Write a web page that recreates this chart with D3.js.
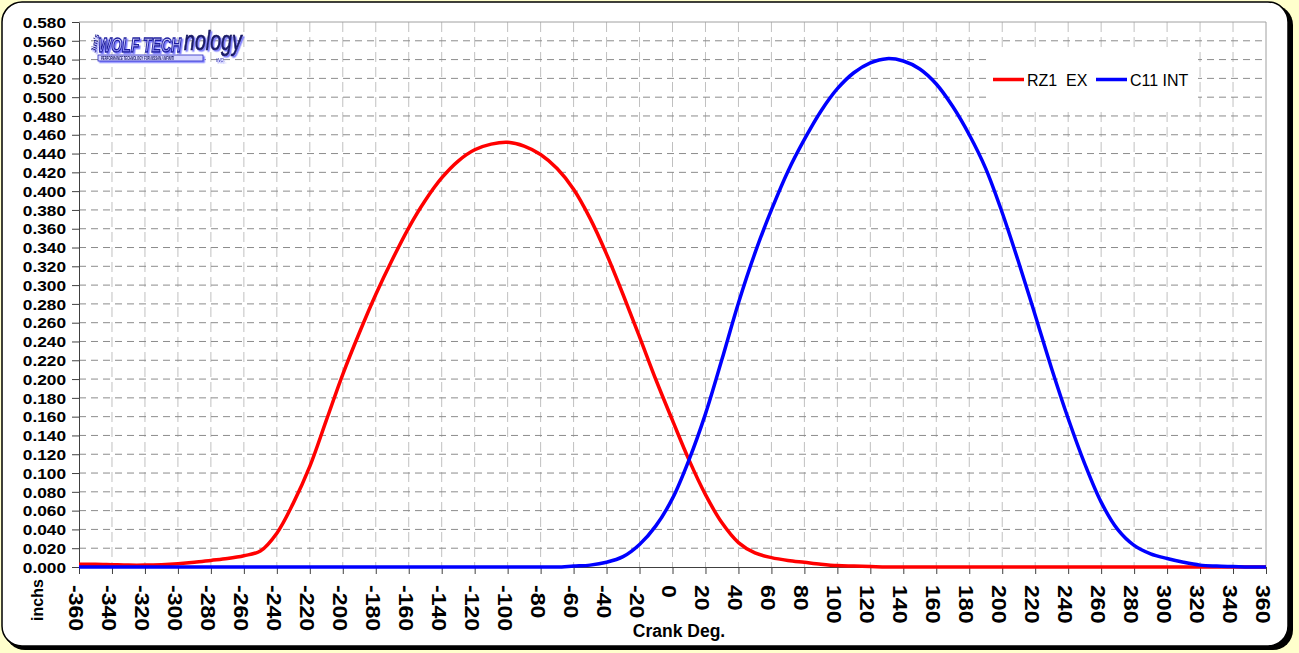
<!DOCTYPE html>
<html>
<head>
<meta charset="utf-8">
<script src="https://cdn.jsdelivr.net/npm/d3@7"></script>
<style>
  body { margin: 0; background: #ffffcc; }
  svg { display: block; }
</style>
</head>
<body>
<div id="chart"></div>
<script>
// crank angle, degrees
var angles = [-360, -350, -340, -330, -320, -310, -300, -290, -280, -270,
  -260, -250, -240, -230, -220, -210, -200, -190, -180, -170,
  -160, -150, -140, -130, -120, -110, -100, -90, -80, -70,
  -60, -50, -40, -30, -20, -10, 0, 10, 20, 30,
  40, 50, 60, 70, 80, 90, 100, 110, 120, 130,
  140, 150, 160, 170, 180, 190, 200, 210, 220, 230,
  240, 250, 260, 270, 280, 290, 300, 310, 320, 330,
  340, 350, 360];

// valve lift, inches
var rz1Ex = [0.003, 0.003, 0.0025, 0.002, 0.002, 0.0025, 0.0035, 0.005, 0.007, 0.009,
  0.012, 0.017, 0.036, 0.068, 0.107, 0.156, 0.205, 0.249, 0.290, 0.327,
  0.361, 0.390, 0.414, 0.432, 0.444, 0.450, 0.452, 0.448, 0.439, 0.424,
  0.402, 0.371, 0.333, 0.290, 0.245, 0.199, 0.156, 0.114, 0.077, 0.047,
  0.026, 0.015, 0.010, 0.007, 0.005, 0.003, 0.0015, 0.001, 0.0005, 0,
  0, 0, 0, 0, 0, 0, 0, 0, 0, 0,
  0, 0, 0, 0, 0, 0, 0, 0, 0, 0,
  0, 0, 0];

var c11Int = [0, 0, 0, 0, 0, 0, 0, 0, 0, 0,
  0, 0, 0, 0, 0, 0, 0, 0, 0, 0,
  0, 0, 0, 0, 0, 0, 0, 0, 0, 0,
  0.001, 0.002, 0.005, 0.011, 0.024, 0.044, 0.073, 0.114, 0.163, 0.221,
  0.281, 0.334, 0.380, 0.421, 0.455, 0.485, 0.509, 0.526, 0.5365, 0.541,
  0.5385, 0.530, 0.514, 0.490, 0.460, 0.424, 0.377, 0.324, 0.268, 0.211,
  0.158, 0.110, 0.069, 0.040, 0.023, 0.014, 0.009, 0.005, 0.002, 0.001,
  0.0005, 0, 0];

var seriesNames = ["RZ1  EX", "C11 INT"];
var seriesColors = ["#ff0000", "#0000ff"];

var xTicks = [-360, -340, -320, -300, -280, -260, -240, -220, -200, -180, -160, -140, -120, -100,
  -80, -60, -40, -20, 0, 20, 40, 60, 80, 100, 120, 140, 160, 180, 200, 220, 240, 260, 280,
  300, 320, 340, 360];
var yTicks = [0, 0.02, 0.04, 0.06, 0.08, 0.10, 0.12, 0.14, 0.16, 0.18, 0.20, 0.22, 0.24,
  0.26, 0.28, 0.30, 0.32, 0.34, 0.36, 0.38, 0.40, 0.42, 0.44, 0.46, 0.48, 0.50, 0.52,
  0.54, 0.56, 0.58];

var FONT = "'Liberation Sans', Arial, sans-serif";

function renderLiftChart(elem, width, height) {
  var svg = elem.append("svg")
    .attr("width", width)
    .attr("height", height);

  var defs = svg.append("defs");
  var shadow = defs.append("filter").attr("id", "logoShadow")
    .attr("x", "-10%").attr("y", "-20%").attr("width", "130%").attr("height", "150%");
  shadow.append("feDropShadow")
    .attr("dx", 1.5).attr("dy", 1.5).attr("stdDeviation", 0.6)
    .attr("flood-color", "#7a7aff");
  var grad = defs.append("linearGradient").attr("id", "wolfFill")
    .attr("x1", 0).attr("y1", 0).attr("x2", 0).attr("y2", 1);
  grad.append("stop").attr("offset", "0%").attr("stop-color", "#ffffff");
  grad.append("stop").attr("offset", "100%").attr("stop-color", "#6a6af2");

  // frame with drop shadow
  svg.append("rect")
    .attr("x", 5).attr("y", 5)
    .attr("width", 1288).attr("height", 645)
    .attr("rx", 20).attr("ry", 20)
    .attr("fill", "#000");
  svg.append("rect")
    .attr("x", 2).attr("y", 2)
    .attr("width", 1286).attr("height", 644)
    .attr("rx", 20).attr("ry", 20)
    .attr("fill", "#fff")
    .attr("stroke", "#000")
    .attr("stroke-width", 1.5);

  var x = d3.scaleLinear().domain([-360, 360]).range([79, 1266]);
  var y = d3.scaleLinear().domain([0, 0.58]).range([567, 22]);

  // grid
  var grid = svg.append("g");
  grid.selectAll(".vgrid")
    .data(xTicks.slice(1, -1))
    .enter().append("line")
      .attr("x1", function(d) { return x(d); })
      .attr("x2", function(d) { return x(d); })
      .attr("y1", y(0.58)).attr("y2", y(0))
      .attr("stroke", "#c0c0c0")
      .attr("stroke-dasharray", "10,5");
  grid.selectAll(".hgrid")
    .data(yTicks.slice(1, -1))
    .enter().append("line")
      .attr("x1", x(-360)).attr("x2", x(360))
      .attr("y1", function(d) { return y(d); })
      .attr("y2", function(d) { return y(d); })
      .attr("stroke", "#8c8c8c")
      .attr("stroke-dasharray", "7,5");

  // top and right edge of plot area
  svg.append("path")
    .attr("d", "M" + x(-360) + "," + y(0.58) + "H" + x(360) + "V" + y(0))
    .attr("fill", "none")
    .attr("stroke", "#a0a0a0");

  // legend sits on top of the grid, behind the curves
  var legend = svg.append("g");
  legend.append("rect")
    .attr("x", 990).attr("y", 50)
    .attr("width", 208).attr("height", 58)
    .attr("fill", "#fff");
  var legendX = [993, 1096];
  seriesNames.forEach(function(name, i) {
    legend.append("line")
      .attr("x1", legendX[i]).attr("x2", legendX[i] + 31)
      .attr("y1", 79.5).attr("y2", 79.5)
      .attr("stroke", seriesColors[i])
      .attr("stroke-width", 3.5);
    legend.append("text")
      .attr("x", legendX[i] + 34).attr("y", 85.5)
      .attr("font-family", FONT)
      .attr("font-size", 16)
      .attr("xml:space", "preserve")
      .style("white-space", "pre")
      .text(name);
  });

  // axes
  var yAxis = svg.append("g")
    .attr("transform", "translate(" + x(-360) + ",0)")
    .call(d3.axisLeft(y).tickValues(yTicks).tickFormat(d3.format(".3f")).tickSize(7).tickSizeOuter(0));
  yAxis.select(".domain").attr("stroke", "#404040");
  yAxis.selectAll(".tick line").attr("stroke", "#404040");
  yAxis.selectAll(".tick text")
    .attr("x", null)
    .attr("dy", "0.36em")
    .attr("transform", "translate(-13,0) scale(1.19,1)")
    .attr("font-family", FONT)
    .attr("font-size", 14.5)
    .attr("font-weight", "bold")
    .attr("fill", "#000");

  // plain hyphen for negatives, as the spreadsheet shows them
  var xAxis = svg.append("g")
    .attr("transform", "translate(0," + y(0) + ")")
    .call(d3.axisBottom(x).tickValues(xTicks).tickFormat(function(d) { return String(d); }).tickSize(7).tickSizeOuter(0));
  xAxis.select(".domain").attr("stroke", "#404040");
  xAxis.selectAll(".tick line").attr("stroke", "#404040");
  xAxis.selectAll(".tick text")
    .attr("y", null)
    .attr("dy", "0.5em")
    .attr("text-anchor", "start")
    .attr("transform", "translate(0,18) rotate(90) scale(1.1,1)")
    .attr("font-family", FONT)
    .attr("font-size", 21)
    .attr("font-weight", "bold")
    .attr("fill", "#000");

  // axis titles
  svg.append("text")
    .attr("transform", "translate(43,600) rotate(-90)")
    .attr("text-anchor", "middle")
    .attr("font-family", FONT)
    .attr("font-size", 16)
    .attr("font-weight", "bold")
    .text("inchs");
  svg.append("text")
    .attr("x", 679).attr("y", 637)
    .attr("text-anchor", "middle")
    .attr("font-family", FONT)
    .attr("font-size", 17.5)
    .attr("font-weight", "bold")
    .text("Crank Deg.");

  // curves, smoothed like the spreadsheet did
  var line = d3.line()
    .x(function(d) { return x(d[0]); })
    .y(function(d) { return Math.min(y(d[1]), y(0)); })
    .curve(d3.curveCatmullRom.alpha(0.5));

  [rz1Ex, c11Int].forEach(function(vals, i) {
    svg.append("path")
      .datum(angles.map(function(a, j) { return [a, vals[j]]; }))
      .attr("d", line)
      .attr("fill", "none")
      .attr("stroke", seriesColors[i])
      .attr("stroke-width", 3.5)
      .attr("stroke-linejoin", "round");
  });

  // logo, roughly; squeezed with scale so the text boxes stay apart
  var logo = svg.append("g").attr("filter", "url(#logoShadow)");
  logo.append("rect")
    .attr("x", 98).attr("y", 55)
    .attr("width", 105).attr("height", 6)
    .attr("fill", "#d8d8ff")
    .attr("stroke", "#2b2bc0")
    .attr("stroke-width", 0.8);
  logo.append("text")
    .attr("transform", "translate(101,60.3) scale(0.62,1)")
    .attr("font-family", FONT)
    .attr("font-size", 4.5)
    .attr("font-weight", "bold")
    .attr("font-style", "italic")
    .attr("fill", "#101060")
    .text("PERFORMANCE TECHNOLOGY FOR NISSAN / INFINITI");
  logo.append("text")
    .attr("transform", "translate(96,53) rotate(-80)")
    .attr("font-family", FONT)
    .attr("font-size", 7.5)
    .attr("font-weight", "bold")
    .attr("font-style", "italic")
    .attr("fill", "#1c1c8c")
    .text("Jim's");
  logo.append("text")
    .attr("transform", "translate(98,52) scale(0.7,1)")
    .attr("font-family", FONT)
    .attr("font-size", 20)
    .attr("font-weight", "bold")
    .attr("font-style", "italic")
    .attr("fill", "url(#wolfFill)")
    .attr("stroke", "#1c1c9c")
    .attr("stroke-width", 1.3)
    .text("WOLF TECH");
  logo.append("text")
    .attr("transform", "translate(184,50) scale(0.7,1)")
    .attr("font-family", FONT)
    .attr("font-size", 28)
    .attr("font-style", "italic")
    .attr("fill", "#1a1a70")
    .attr("stroke", "#101050")
    .attr("stroke-width", 0.7)
    .text("nology");
  logo.append("text")
    .attr("x", 216).attr("y", 62)
    .attr("font-family", FONT)
    .attr("font-size", 4.5)
    .attr("font-style", "italic")
    .attr("fill", "#2b2bb0")
    .text("INC.");
}

renderLiftChart(d3.select("#chart"), 1299, 653);
</script>
</body>
</html>
